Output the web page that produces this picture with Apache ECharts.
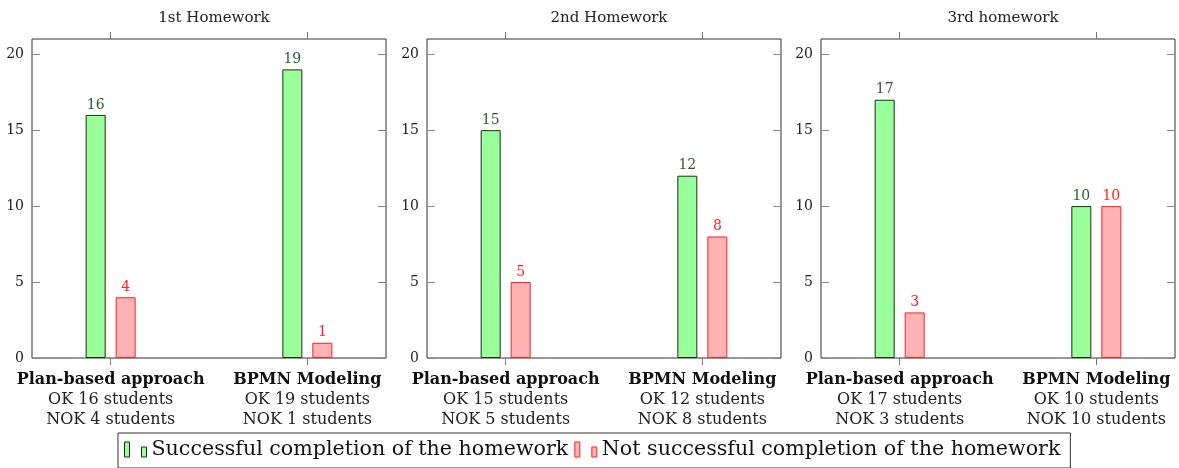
<!DOCTYPE html>
<html>
<head>
<meta charset="utf-8">
<script src="https://cdn.jsdelivr.net/npm/echarts@6/dist/echarts.min.js"></script>
<style>
  html, body { margin: 0; padding: 0; background: #fff; }
  #chart { width: 1179px; height: 468px; }
</style>
</head>
<body>
<div id="chart"></div>
<script>
// data
const homeworkTitles = ['1st Homework', '2nd Homework', '3rd homework']
const approaches = ['Plan-based approach', 'BPMN Modeling']
const okCounts = [[16, 19], [15, 12], [17, 10]]
const nokCounts = [[4, 1], [5, 8], [3, 10]]
const yTickValues = [0, 5, 10, 15, 20]
const yMax = 21
const legendNames = ['Successful completion of the homework', 'Not successful completion of the homework']

const font = '"DejaVu Serif", "Liberation Serif", serif'
const gridLefts = [32, 427, 821]
const gridWidth = 354

let myChart = echarts.init(document.getElementById('chart'))

let grids = []
let xAxes = []
let yAxes = []
let series = []
let titles = []

homeworkTitles.forEach((t, i) => {
  grids.push({
    left: gridLefts[i], top: 39, width: gridWidth, height: 319,
    show: true, borderColor: '#333', borderWidth: 1, backgroundColor: 'transparent'
  })
  titles.push({
    text: t, left: gridLefts[i] + gridWidth / 2, top: 6, textAlign: 'center',
    textStyle: { fontFamily: font, fontSize: 15, fontWeight: 'normal', color: '#222' }
  })
  // bottom x axis with the category labels
  xAxes.push({
    gridIndex: i, type: 'value', position: 'bottom', min: -0.4, max: 1.4,
    splitLine: { show: false },
    axisLine: { show: false, onZero: false },
    axisTick: { show: true, inside: false, length: 7, customValues: [0, 1], lineStyle: { color: '#777' } },
    axisLabel: {
      show: true, customValues: [0, 1], margin: 12,
      formatter: (v) => {
        let k = Math.round(v)
        return '{b|' + approaches[k] + '}\nOK ' + okCounts[i][k] + ' students\nNOK ' + nokCounts[i][k] + ' students'
      },
      fontFamily: font, fontSize: 16, color: '#222', lineHeight: 20,
      rich: { b: { fontFamily: font, fontSize: 16, fontWeight: 'bold', color: '#111', lineHeight: 20 } }
    }
  })
  // top x axis, ticks only
  xAxes.push({
    gridIndex: i, type: 'value', position: 'top', min: -0.4, max: 1.4,
    splitLine: { show: false },
    axisLine: { show: false, onZero: false },
    axisTick: { show: true, inside: false, length: 7, customValues: [0, 1], lineStyle: { color: '#777' } },
    axisLabel: { show: false }
  })
  yAxes.push({
    gridIndex: i, type: 'value', position: 'left', min: 0, max: yMax,
    splitLine: { show: false },
    axisLine: { show: false, onZero: false },
    axisTick: { show: true, inside: true, length: 8, customValues: yTickValues, lineStyle: { color: '#888' } },
    axisLabel: { customValues: yTickValues, margin: 8, fontFamily: font, fontSize: 14, color: '#222' }
  })
  yAxes.push({
    gridIndex: i, type: 'value', position: 'right', min: 0, max: yMax,
    splitLine: { show: false },
    axisLine: { show: false, onZero: false },
    axisTick: { show: true, inside: true, length: 8, customValues: yTickValues, lineStyle: { color: '#888' } },
    axisLabel: { show: false }
  })
  series.push({
    name: legendNames[0], type: 'bar', xAxisIndex: i * 2, yAxisIndex: i * 2,
    barWidth: 20, barGap: '50%',
    data: okCounts[i].map((v, k) => [k, v]),
    itemStyle: { color: '#99ff99', borderColor: '#1a2e1a', borderWidth: 1 },
    label: {
      show: true, position: 'top', distance: 3, formatter: (p) => p.value[1],
      fontFamily: font, fontSize: 14, color: '#2d5a2d'
    }
  })
  series.push({
    name: legendNames[1], type: 'bar', xAxisIndex: i * 2, yAxisIndex: i * 2,
    barWidth: 20, barGap: '50%',
    data: nokCounts[i].map((v, k) => [k, v]),
    itemStyle: { color: '#ffb3b3', borderColor: '#ff2020', borderWidth: 1 },
    label: {
      show: true, position: 'top', distance: 3, formatter: (p) => p.value[1],
      fontFamily: font, fontSize: 14, color: '#ff2020'
    }
  })
})

myChart.setOption({
  animation: false,
  title: titles,
  grid: grids,
  xAxis: xAxes,
  yAxis: yAxes,
  legend: {
    data: [
      { name: legendNames[0], itemStyle: { color: '#99ff99', borderColor: '#1a2e1a', borderWidth: 1 } },
      { name: legendNames[1], itemStyle: { color: '#ffb3b3', borderColor: '#ff2020', borderWidth: 1 } }
    ],
    left: 118, top: 433,
    icon: 'path://M0,0h5v15h-5z M17,5h5v10h-5z',
    itemWidth: 22, itemHeight: 15, itemGap: 6,
    borderColor: '#333', borderWidth: 1, borderRadius: 0,
    padding: [6, 10, 8, 6],
    textStyle: { fontFamily: font, fontSize: 20.6, color: '#111' }
  },
  series: series
})
</script>
</body>
</html>
